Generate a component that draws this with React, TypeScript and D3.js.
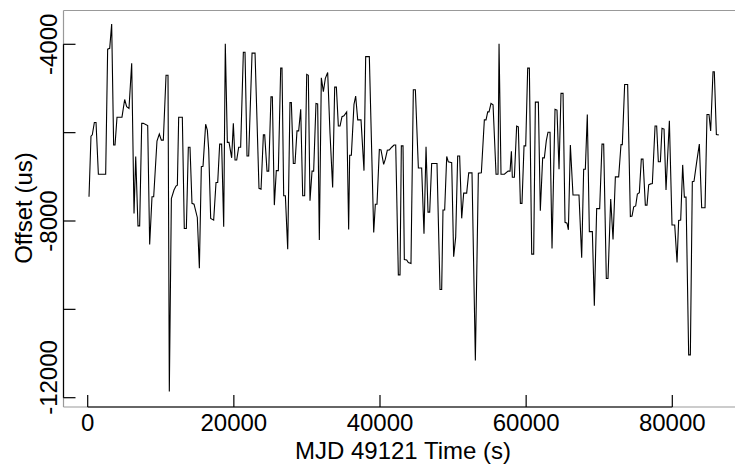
import React from "react";
import * as d3 from "d3";

const times: number[] = [
  180, 450, 630, 910, 1140, 1460, 2460, 2730, 3010, 3280, 3550, 3740, 4010, 4690, 5060, 5330, 5650, 6020, 6340, 6570,
  6880, 7110, 7390, 7610, 8210, 8480, 8800, 9030, 9480, 9800, 10080, 10350, 10720, 10990, 11170, 11450, 11810, 12080, 12270, 12450,
  12950, 13220, 13500, 13770, 14000, 14270, 14550, 15000, 15280, 15550, 15780, 16140, 16370, 16560, 16830, 17240, 17560, 17790, 18060, 18330,
  18610, 18830, 19110, 19340, 19700, 19930, 20160, 20390, 20660, 20930, 21300, 21530, 21800, 22030, 22490, 22900, 23440, 23720, 24040, 24220,
  24540, 24770, 25080, 25270, 25540, 25810, 26090, 26410, 26590, 26820, 27050, 27370, 27680, 27870, 28140, 28370, 28640, 28870, 29150, 29420,
  29690, 29970, 30190, 30420, 30700, 30920, 31240, 31470, 31700, 31970, 32250, 32520, 32840, 33160, 33520, 33800, 34030, 34300, 34530, 34800,
  35070, 35440, 35710, 35850, 36080, 36440, 36670, 36950, 37400, 37810, 38040, 38540, 39140, 39360, 39590, 39910, 40140, 40500, 40730, 41000,
  41280, 41600, 41920, 42150, 42510, 42740, 42920, 43150, 43330, 43650, 43880, 44240, 44560, 44840, 45250, 45700, 46020, 46300, 46570, 46800,
  47070, 47800, 48210, 48440, 48620, 48850, 49130, 49350, 49810, 50080, 50360, 50630, 50900, 51180, 51450, 51860, 52140, 52590, 53050, 53460,
  53870, 54280, 54510, 54740, 54920, 55190, 55470, 55880, 56150, 56290, 56560, 57020, 57530, 57800, 57980, 58110, 58390, 58700, 58930, 59210,
  59430, 59710, 59940, 60210, 60440, 60760, 61030, 61260, 61670, 61940, 62260, 62490, 62760, 62990, 63270, 63540, 63950, 64220, 64500, 64770,
  65050, 65320, 65590, 65780, 66050, 66410, 67230, 67600, 67870, 68100, 68370, 68650, 69060, 69330, 69650, 70060, 70380, 70610, 70970, 71200,
  71570, 71890, 72210, 72660, 72980, 73160, 73480, 73890, 74260, 74490, 74720, 74990, 75220, 75490, 75760, 75990, 76310, 76540, 76770, 77040,
  77270, 77640, 77860, 78090, 78370, 78590, 78870, 79140, 79600, 79960, 80330, 80650, 80870, 81150, 81420, 81650, 81880, 82240, 82470, 82740,
  82970, 83340, 83700, 84020, 84480, 84750, 85020, 85250, 85570, 85750, 86030, 86350
];

const offsets: number[] = [
  -7450, -6080, -6050, -5770, -5770, -6940, -6940, -4110, -4090, -3540, -6280, -6280, -5650, -5650, -5250, -5410, -5450, -4430, -7830, -6540,
  -8110, -8110, -5790, -5790, -5840, -8530, -7450, -7450, -6190, -6030, -6170, -6170, -4700, -4700, -11860, -7490, -7300, -7210, -7190, -5650,
  -5650, -8170, -8170, -6330, -6330, -7600, -7620, -7920, -9070, -6770, -6760, -5810, -5940, -6390, -7940, -7980, -7130, -7130, -6260, -6260,
  -8130, -3990, -6220, -6220, -6570, -5790, -6620, -6620, -6330, -6330, -4180, -4180, -6530, -6530, -4200, -4200, -7260, -7280, -6050, -6050,
  -6870, -6870, -5190, -5190, -7640, -6860, -6860, -4540, -4540, -7430, -7430, -8640, -5320, -5320, -6700, -6700, -5960, -5960, -5470, -7430,
  -7430, -4680, -4700, -7540, -6870, -6870, -5340, -5350, -8430, -4760, -5070, -4770, -4640, -6020, -7240, -4970, -4970, -5850, -5850, -5640,
  -5620, -5530, -8190, -6510, -6510, -5360, -5170, -5710, -5710, -6860, -4280, -4280, -8260, -7620, -7620, -6380, -6390, -6720, -6600, -6400,
  -6390, -6330, -6280, -6280, -9220, -9220, -6300, -6300, -8870, -8880, -8940, -8960, -5030, -5030, -6800, -6800, -8290, -6320, -7800, -7800,
  -6700, -6700, -9550, -9550, -7750, -7750, -6540, -6660, -6680, -8810, -8360, -6530, -6530, -7940, -7370, -7370, -6910, -6910, -11160, -6920,
  -6910, -5710, -5710, -5530, -5530, -5340, -5370, -6940, -6940, -3990, -6940, -6940, -6870, -6870, -6420, -7010, -7010, -5850, -5870, -7600,
  -7600, -6300, -6300, -4540, -4540, -8750, -8750, -5310, -5310, -7770, -6570, -6570, -6180, -5990, -5990, -8620, -5470, -5490, -6830, -5110,
  -5110, -8030, -8050, -8200, -6280, -7410, -7410, -8830, -6830, -6830, -5590, -8240, -8240, -9920, -7720, -7720, -6260, -6260, -9300, -9300,
  -7500, -8420, -7000, -7000, -6270, -6270, -4910, -4910, -7900, -7890, -7680, -7660, -7390, -7360, -6600, -6600, -7640, -7640, -7180, -7160,
  -7150, -5850, -5850, -6660, -6660, -5900, -5920, -7300, -5730, -8090, -8090, -8940, -7990, -7980, -6730, -7460, -7460, -11030, -11030, -7110,
  -7100, -6660, -6260, -7700, -7700, -5590, -5590, -5960, -4620, -4620, -6040, -6050
];

const xTicks: number[] = [0, 20000, 40000, 60000, 80000];
const yTicks: number[] = [-12000, -10000, -8000, -6000, -4000];
const yLabelled: number[] = [-12000, -8000, -4000];

const xTitle = "MJD 49121 Time (s)";
const yTitle = "Offset (us)";

export default function App() {
  const W = 735;
  const H = 464;
  const frameL = 63.5;
  const frameT = 10.5;
  const frameB = 407;
  const frameR = 740;

  const x = d3.scaleLinear().domain([0, 80000]).range([87.7, 672.3]);
  const y = d3.scaleLinear().domain([-12000, -4000]).range([397.7, 44.3]);

  const data: [number, number][] = times.map((t, i) => [t, offsets[i]]);
  const line = d3
    .line<[number, number]>()
    .x((d) => x(d[0]))
    .y((d) => y(d[1]));

  const font = "'Liberation Sans', Arial, Helvetica, sans-serif";
  const fs = 24;
  const tickLen = 12;

  const yLabelPos = (v: number) => {
    // labels are kept within the axis extent
    const half = 37.5;
    let c = y(v);
    if (c + half > frameB + 8) c = frameB + 8 - half;
    return c;
  };

  return (
    <svg
      width={W}
      height={H}
      style={{ position: "absolute", left: 0, top: 0, background: "#fff" }}
      fontFamily={font}
    >
      {/* frame */}
      <g stroke="#999" strokeWidth={1.2} fill="none">
        <line x1={frameL} y1={frameT} x2={frameR} y2={frameT} />
        <line x1={frameL} y1={frameT} x2={frameL} y2={frameB} />
        <line x1={frameL} y1={frameB} x2={frameR} y2={frameB} />
      </g>
      {/* axis lines */}
      <g stroke="#000" strokeWidth={1.2}>
        <line x1={x(0)} y1={frameB} x2={x(80000)} y2={frameB} />
        <line x1={frameL} y1={y(-12000)} x2={frameL} y2={y(-4000)} />
        {xTicks.map((t) => (
          <line key={"xt" + t} x1={x(t)} x2={x(t)} y1={frameB} y2={frameB - tickLen} />
        ))}
        {yTicks.map((t) => (
          <line key={"yt" + t} x1={frameL} x2={frameL + tickLen} y1={y(t)} y2={y(t)} />
        ))}
      </g>
      {/* x tick labels */}
      {xTicks.map((t) => (
        <text key={"xl" + t} x={x(t)} y={431} textAnchor="middle" fontSize={fs} fill="#000">
          {t}
        </text>
      ))}
      {/* y tick labels */}
      {yLabelled.map((t) => (
        <text
          key={"yl" + t}
          transform={`translate(57,${yLabelPos(t)}) rotate(-90)`}
          textAnchor="middle"
          fontSize={fs}
          fill="#000"
        >
          {t}
        </text>
      ))}
      {/* titles */}
      <text x={403} y={459} textAnchor="middle" fontSize={fs} fill="#000">
        {xTitle}
      </text>
      <text transform={`translate(32,208) rotate(-90)`} textAnchor="middle" fontSize={fs} fill="#000">
        {yTitle}
      </text>
      {/* series */}
      <path d={line(data) || ""} fill="none" stroke="#000" strokeWidth={1.1} strokeLinejoin="miter" />
    </svg>
  );
}
